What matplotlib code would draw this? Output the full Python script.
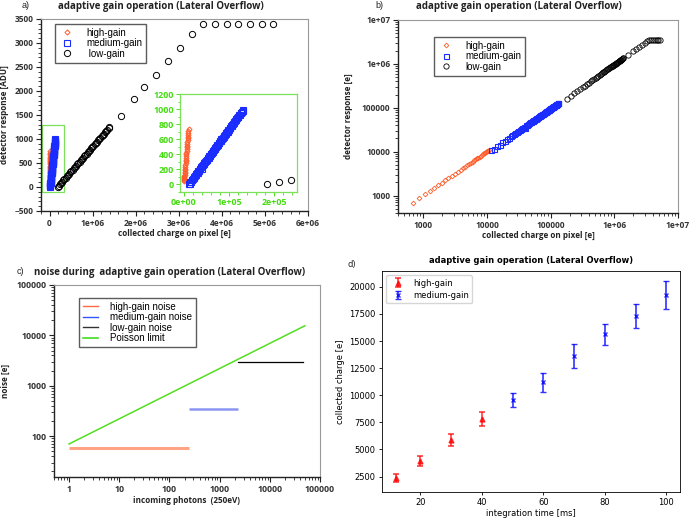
import matplotlib
matplotlib.use("Agg")
import matplotlib.pyplot as plt
from matplotlib.ticker import FuncFormatter, AutoMinorLocator, LogLocator, NullFormatter, FixedLocator
from matplotlib.lines import Line2D
from matplotlib.patches import Rectangle

# ---- panel a / b : response vs collected charge ----
hg_charge = [680, 870, 1060, 1270, 1470, 1710, 1950, 2210, 2460, 2800, 3150, 3500, 3850, 4200,
             4550, 4900, 5250, 5600, 5950, 6300, 6650, 7000, 7350, 7700, 8050, 8400, 8750,
             9100, 9450, 9800, 10150, 10500, 10850]
hg_adu = [46, 58, 71, 85, 98, 115, 131, 148, 165, 188, 211, 235, 258, 281, 305, 328, 352, 375,
          399, 422, 446, 469, 492, 516, 539, 563, 586, 610, 633, 657, 680, 704, 740]

mg_charge = [11500, 13000, 14500, 16000, 17500, 19000, 20500, 22000, 23500, 25000,
             26500, 28000, 29500, 31000, 32500, 34000, 35500, 37000, 38500, 40000,
             41500, 43000, 44500, 46000, 47500, 49000, 50500, 52000, 53500, 55000,
             56500, 58000, 59500, 61000, 62500, 64000, 65500, 67000, 68500, 70000,
             71500, 73000, 74500, 76000, 77500, 79000, 80500, 82000, 83500, 85000,
             86500, 88000, 89500, 91000, 92500, 94000, 95500, 97000, 98500, 100000,
             101500, 103000, 104500, 106000, 107500, 109000, 110500, 112000, 113500, 115000,
             116500, 118000, 119500, 121000, 122500, 124000, 125500, 127000, 128500, 130000,
             131500]
mg_adu = [2, 10, 27, 34, 53, 60, 77, 84, 102, 108,
          127, 133, 152, 158, 176, 183, 201, 207, 226, 206,
          251, 257, 275, 282, 300, 306, 325, 331, 350, 356,
          374, 381, 399, 405, 424, 430, 449, 455, 473, 480,
          498, 504, 523, 529, 548, 554, 572, 579, 597, 603,
          622, 628, 647, 653, 671, 678, 696, 702, 721, 727,
          746, 752, 770, 777, 795, 801, 820, 826, 845, 851,
          869, 876, 894, 900, 919, 925, 944, 950, 968, 975,
          992]

lg_charge = [184000, 210000, 237000, 264000, 291000, 318000, 345000, 372000, 399000, 426000,
             453000, 480000, 507000, 534000, 561000, 588000, 615000, 642000, 669000, 696000,
             723000, 750000, 777000, 804000, 831000, 858000, 885000, 912000, 939000, 966000,
             993000, 1020000, 1047000, 1074000, 1101000, 1128000, 1155000, 1182000, 1209000,
             1236000, 1263000, 1290000, 1317000, 1344000, 1371000, 1390000,
             1660000, 1950000, 2200000, 2480000, 2740000, 3030000, 3300000, 3560000, 3840000,
             4120000, 4380000, 4660000, 4930000, 5200000]
lg_adu = [0, 27, 55, 83, 111, 139, 166, 194, 222, 250, 277, 305, 333, 361, 388, 416, 444, 472,
          499, 527, 555, 583, 610, 638, 666, 694, 721, 749, 777, 805, 833, 860, 888, 916, 944,
          971, 999, 1027, 1055, 1082, 1110, 1138, 1166, 1193, 1221, 1240,
          1479, 1826, 2076, 2340, 2632, 2903, 3194, 3396, 3400, 3400, 3400, 3400, 3400, 3400]

# calibration ADU -> e  (gain [e/ADU], pedestal [e])
hg_cal = (14.9, 0.0)
mg_cal = (119.0, 10500.0)
lg_cal = (965.0, 160000.0)

# ---- panel c : noise ----
hg_noise_x = [1, 240]
hg_noise_y = [58, 58]
mg_noise_x = [240, 2300]
mg_noise_y = [350, 350]
lg_noise_x = [2300, 45000]
lg_noise_y = [3000, 3000]
poisson_x = [1, 50000]
poisson_y = [70, 15500]

# ---- panel d : collected charge vs integration time ----
t_hg = [12, 20, 30, 40]
q_hg = [2380, 3950, 5880, 7820]
e_hg = [380, 450, 580, 640]
t_mg = [50, 60, 70, 80, 90, 100]
q_mg = [9570, 11180, 13620, 15620, 17300, 19250]
e_mg = [620, 900, 1130, 970, 1100, 1280]

GFONT = "Open Sans"
TXT = "#222222"
ORANGE = "#ff5a28"
BLUE = "#1a2cff"


def to_e(adu, cal):
    return [a * cal[0] + cal[1] for a in adu]


def gnu_axes(ax, fs=6.0):
    for s in ["left", "bottom"]:
        ax.spines[s].set_color("#222222")
        ax.spines[s].set_linewidth(1.0)
    for s in ["top", "right"]:
        ax.spines[s].set_color("#999999")
        ax.spines[s].set_linewidth(0.8)
    ax.tick_params(which="both", direction="out", top=False, right=False, colors="#222222")
    ax.tick_params(which="major", length=3.5, width=0.8, labelsize=fs, pad=2)
    ax.tick_params(which="minor", length=2, width=0.6)
    for lab in ax.get_xticklabels() + ax.get_yticklabels():
        lab.set_fontfamily(GFONT)
        lab.set_fontweight("bold")
        lab.set_color("#333333")


def gnu_legend(ax, handles, labels, anchor):
    leg = ax.legend(handles, labels, loc="upper left", bbox_to_anchor=anchor, borderaxespad=0,
                    frameon=True, fancybox=False, edgecolor="#333333",
                    prop={"family": "Liberation Sans", "size": 7}, handlelength=1.6,
                    handletextpad=1.2, labelspacing=0.05, borderpad=0.4)
    leg.get_frame().set_linewidth(1.0)
    return leg


def sci(v, pos):
    if v == 0:
        return "0"
    return "%.0e" % v


def logfmt(v, pos):
    if v >= 1e6:
        return "%.0e" % v
    return "%d" % round(v)


fig = plt.figure(figsize=(6.92, 5.18), dpi=100)

# ================= panel a =================
ax_a = fig.add_axes([0.0592, 0.5927, 0.3858, 0.3707])
h1, = ax_a.plot(hg_charge, hg_adu, ls="none", marker="D", ms=2.6, mfc="none", mec=ORANGE, mew=0.7)
h2, = ax_a.plot(mg_charge, mg_adu, ls="none", marker="s", ms=4, mfc="none", mec=BLUE, mew=0.8)
h3, = ax_a.plot(lg_charge, lg_adu, ls="none", marker="o", ms=4.5, mfc="none", mec="black", mew=0.7)
ax_a.set_xlim(-2e5, 6e6)
ax_a.set_ylim(-500, 3500)
ax_a.xaxis.set_major_locator(FixedLocator([0, 1e6, 2e6, 3e6, 4e6, 5e6, 6e6]))
ax_a.xaxis.set_major_formatter(FuncFormatter(sci))
ax_a.xaxis.set_minor_locator(AutoMinorLocator(5))
ax_a.yaxis.set_minor_locator(AutoMinorLocator(5))
gnu_axes(ax_a)
ax_a.set_xlabel("collected charge on pixel [e]", fontsize=5.9, fontweight="bold",
                fontfamily=GFONT, color=TXT, labelpad=1)
ax_a.set_ylabel("detector response [ADU]", fontsize=5.9, fontweight="bold",
                fontfamily=GFONT, color=TXT)
ax_a.yaxis.set_label_coords(-0.118, 0.5)
gnu_legend(ax_a, [h1, h2, h3], ["high-gain", "medium-gain", " low-gain"], (0.052, 0.974))
ax_a.add_patch(Rectangle((-1.75e5, -100), 5.1e5, 1400, fill=False, ec="#7be05a", lw=0.9))

# inset
ax_i = fig.add_axes([0.2601, 0.6293, 0.1691, 0.1892])
ax_i.plot(hg_charge, hg_adu, ls="none", marker="D", ms=2.6, mfc="none", mec=ORANGE, mew=0.7)
ax_i.plot(mg_charge, mg_adu, ls="none", marker="s", ms=4, mfc="none", mec=BLUE, mew=0.8)
ax_i.plot(lg_charge, lg_adu, ls="none", marker="o", ms=4.5, mfc="none", mec="black", mew=0.7)
ax_i.set_xlim(-8000, 2.5e5)
ax_i.set_ylim(-100, 1200)
ax_i.xaxis.set_major_locator(FixedLocator([0, 1e5, 2e5]))
ax_i.xaxis.set_major_formatter(FuncFormatter(lambda v, p: "%.0e" % v))
ax_i.yaxis.set_major_locator(FixedLocator([0, 200, 400, 600, 800, 1000, 1200]))
ax_i.xaxis.set_minor_locator(AutoMinorLocator(5))
ax_i.yaxis.set_minor_locator(AutoMinorLocator(2))
for s in ax_i.spines.values():
    s.set_color("#7be05a")
    s.set_linewidth(0.9)
ax_i.tick_params(which="both", direction="out", colors="#55dd22", top=False, right=False)
ax_i.tick_params(which="major", length=3, width=0.7, labelsize=6.4, pad=1.5)
ax_i.tick_params(which="minor", length=1.8, width=0.6)
for lab in ax_i.get_xticklabels() + ax_i.get_yticklabels():
    lab.set_fontfamily(GFONT)
    lab.set_fontweight("bold")
    lab.set_color("#44dd11")

fig.text(26 / 692, 1 - 6 / 518, "a)", fontsize=6.5, fontfamily="Liberation Sans", color=TXT,
         ha="center", va="center")
fig.text(161 / 692, 1 - 7 / 518, "adaptive gain operation (Lateral Overflow)", fontsize=7,
         fontweight="bold", fontfamily=GFONT, color=TXT, ha="center", va="center")

# ================= panel b =================
ax_b = fig.add_axes([0.5751, 0.5888, 0.4046, 0.3726])
g1, = ax_b.plot(hg_charge, to_e(hg_adu, hg_cal), ls="none", marker="D", ms=2.4, mfc="none",
                mec=ORANGE, mew=0.6)
g2, = ax_b.plot(mg_charge, to_e(mg_adu, mg_cal), ls="none", marker="s", ms=3.6, mfc="none",
                mec=BLUE, mew=0.8)
g3, = ax_b.plot(lg_charge, to_e(lg_adu, lg_cal), ls="none", marker="o", ms=3.8, mfc="none",
                mec="black", mew=0.6)
ax_b.set_xscale("log")
ax_b.set_yscale("log")
ax_b.set_xlim(400, 1e7)
ax_b.set_ylim(400, 1e7)
for axis in [ax_b.xaxis, ax_b.yaxis]:
    axis.set_major_locator(LogLocator(base=10, numticks=10))
    axis.set_major_formatter(FuncFormatter(logfmt))
    axis.set_minor_locator(LogLocator(base=10, subs=range(2, 10), numticks=20))
    axis.set_minor_formatter(NullFormatter())
gnu_axes(ax_b)
ax_b.set_xlabel("collected charge on pixel [e]", fontsize=5.9, fontweight="bold",
                fontfamily=GFONT, color=TXT, labelpad=1)
ax_b.set_ylabel("detector response [e]", fontsize=5.9, fontweight="bold",
                fontfamily=GFONT, color=TXT)
ax_b.yaxis.set_label_coords(-0.162, 0.5)
gnu_legend(ax_b, [g1, g2, g3], ["high-gain", "medium-gain", "low-gain"], (0.129, 0.913))
fig.text(379 / 692, 1 - 5 / 518, "b)", fontsize=6.5, fontfamily="Liberation Sans", color=TXT,
         ha="center", va="center")
fig.text(519 / 692, 1 - 7 / 518, "adaptive gain operation (Lateral Overflow)", fontsize=7,
         fontweight="bold", fontfamily=GFONT, color=TXT, ha="center", va="center")

# ================= panel c =================
ax_c = fig.add_axes([0.078, 0.0792, 0.3844, 0.3707])
ax_c.plot(hg_noise_x, hg_noise_y, color="#ffa385", lw=2.2, solid_capstyle="butt")
ax_c.plot(mg_noise_x, mg_noise_y, color="#8a95f2", lw=1.8, solid_capstyle="butt")
ax_c.plot(lg_noise_x, lg_noise_y, color="black", lw=0.9)
ax_c.plot(poisson_x, poisson_y, color="#55dd22", lw=1.1)
ax_c.set_xscale("log")
ax_c.set_yscale("log")
ax_c.set_xlim(0.5, 1e5)
ax_c.set_ylim(15.5, 1e5)
for axis in [ax_c.xaxis, ax_c.yaxis]:
    axis.set_major_locator(LogLocator(base=10, numticks=10))
    axis.set_major_formatter(FuncFormatter(lambda v, p: "%d" % round(v)))
    axis.set_minor_locator(LogLocator(base=10, subs=range(2, 10), numticks=20))
    axis.set_minor_formatter(NullFormatter())
gnu_axes(ax_c, fs=6.3)
ax_c.set_xlabel("incoming photons  (250eV)", fontsize=5.9, fontweight="bold",
                fontfamily=GFONT, color=TXT, labelpad=2)
ax_c.set_ylabel("noise [e]", fontsize=5.9, fontweight="bold",
                fontfamily=GFONT, color=TXT)
ax_c.yaxis.set_label_coords(-0.165, 0.5)
c_handles = [Line2D([], [], color="#ff6a40", lw=1.0), Line2D([], [], color="#3355ff", lw=1.0),
             Line2D([], [], color="#333333", lw=1.0), Line2D([], [], color="#44dd22", lw=1.2)]
gnu_legend(ax_c, c_handles, ["high-gain noise", "medium-gain noise", "low-gain noise",
                             "Poisson limit"], (0.094, 0.932))
fig.text(20 / 692, 1 - 272 / 518, "c)", fontsize=6.5, fontfamily="Liberation Sans", color=TXT,
         ha="center", va="center")
fig.text(170 / 692, 1 - 272 / 518, "noise during  adaptive gain operation (Lateral Overflow)",
         fontsize=7, fontweight="bold", fontfamily=GFONT, color=TXT, ha="center", va="center")

# ================= panel d =================
ax_d = fig.add_axes([0.552, 0.0502, 0.4306, 0.4266])
ax_d.errorbar(t_hg, q_hg, yerr=e_hg, fmt="^", color="red", alpha=0.75, ms=3.5, capsize=2.5,
              elinewidth=1.2, capthick=1.2, label="high-gain")
ax_d.errorbar(t_mg, q_mg, yerr=e_mg, fmt="x", color="blue", alpha=0.8, ms=3.5, capsize=2.5,
              elinewidth=1.2, capthick=1.2, mew=1.0, label="medium-gain")
ax_d.set_yticks([2500, 5000, 7500, 10000, 12500, 15000, 17500, 20000])
ax_d.set_xticks([20, 40, 60, 80, 100])
ax_d.tick_params(labelsize=6, length=2.5, width=0.6, pad=2)
for s in ax_d.spines.values():
    s.set_linewidth(0.6)
ax_d.set_xlabel("integration time [ms]", fontsize=6, labelpad=1.5)
ax_d.set_ylabel("collected charge [e]", fontsize=6, labelpad=3)
ax_d.legend(loc="upper left", fontsize=6, borderpad=0.4, handletextpad=0.8, labelspacing=0.4)
ax_d.set_title("adaptive gain operation (Lateral Overflow)", fontsize=6, fontweight="bold",
               pad=6)
fig.text(352 / 692, 1 - 265 / 518, "d)", fontsize=6, color=TXT, ha="center", va="center")

fig.savefig("out.png", dpi=100)
